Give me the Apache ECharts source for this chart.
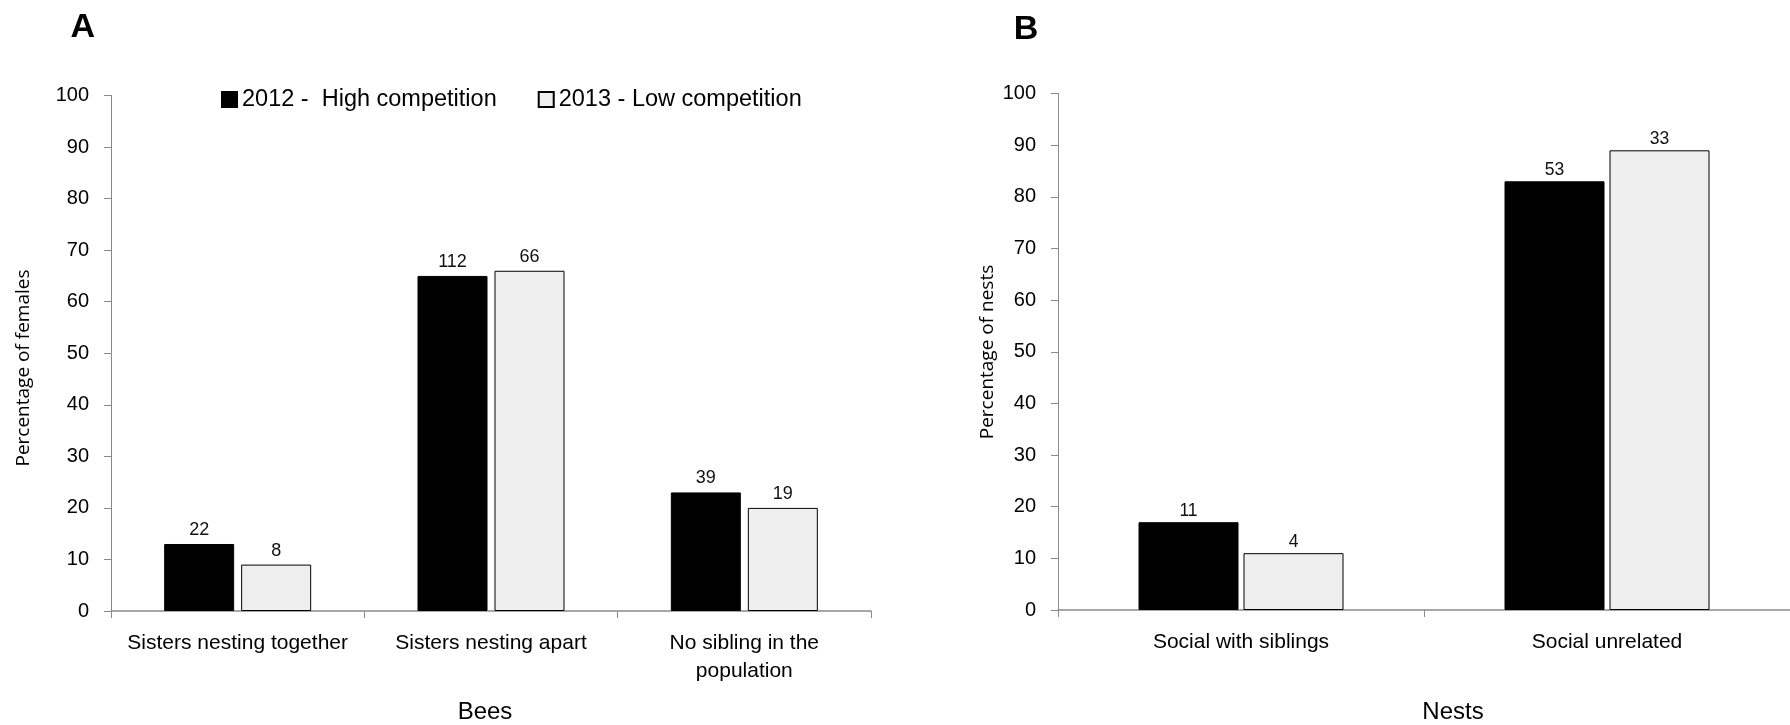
<!DOCTYPE html>
<html>
<head>
<meta charset="utf-8">
<script src="https://cdn.jsdelivr.net/npm/echarts@6/dist/echarts.min.js"></script>
<style>
  html, body { margin: 0; padding: 0; background: #ffffff; }
  #chart { width: 1790px; height: 725px; }
</style>
</head>
<body>
<div id="chart"></div>
<script>
// Panel A: females by sibling situation (percent), counts shown above bars
const beeCategories = ['Sisters nesting together', 'Sisters nesting apart', 'No sibling in the\npopulation'];
const bees2012 = [13, 65, 23];
const bees2013 = [9, 66, 20];
const beeCounts2012 = [22, 112, 39];
const beeCounts2013 = [8, 66, 19];

// Panel B: social nests by relatedness (percent), counts shown above bars
const nestCategories = ['Social with siblings', 'Social unrelated'];
const nests2012 = [17, 83];
const nests2013 = [11, 89];
const nestCounts2012 = [11, 53];
const nestCounts2013 = [4, 33];

const seriesNames = ['2012 -  High competition', '2013 - Low competition'];
const percentAxis = { min: 0, max: 100, interval: 10 };

const SANS = "'Liberation Sans', Arial, sans-serif";
const TITLE_FONT = "'Open Sans', sans-serif";
const AXIS_GREY = '#8a8a8a';

const chart = echarts.init(document.getElementById('chart'), null, { renderer: 'canvas' });

function valueAxis(gridIndex) {
  return {
    type: 'value', gridIndex,
    min: percentAxis.min, max: percentAxis.max, interval: percentAxis.interval,
    axisLine: { show: true, lineStyle: { color: AXIS_GREY, width: 1 } },
    axisTick: { show: true, length: 7, lineStyle: { color: AXIS_GREY } },
    axisLabel: { margin: 22, fontFamily: SANS, fontSize: 20, color: '#000' },
    splitLine: { show: false }
  };
}

function categoryAxis(gridIndex, data) {
  return {
    type: 'category', gridIndex, data,
    axisLine: { lineStyle: { color: AXIS_GREY, width: 1.5 } },
    axisTick: { show: true, alignWithLabel: false, length: 7, lineStyle: { color: AXIS_GREY } },
    axisLabel: { margin: 18, fontFamily: SANS, fontSize: 21, color: '#000', lineHeight: 28, interval: 0 }
  };
}

function barSeries(name, gridIndex, values, counts, fill, opts) {
  return {
    name, type: 'bar', xAxisIndex: gridIndex, yAxisIndex: gridIndex,
    data: values,
    barWidth: opts.barWidth, barGap: opts.barGap,
    itemStyle: { color: fill, borderColor: '#000', borderWidth: 1 },
    label: {
      show: true, position: 'top', distance: opts.labelDistance,
      fontFamily: SANS, fontSize: opts.labelSize, color: '#111',
      formatter: p => String(counts[p.dataIndex])
    },
    emphasis: { disabled: true },
    animation: false
  };
}

const beeBar = { barWidth: 70, barGap: '10%', labelDistance: 5, labelSize: 18 };
const nestBar = { barWidth: 100, barGap: '5%', labelDistance: 2, labelSize: 17.5 };

chart.setOption({
  backgroundColor: '#ffffff',
  animation: false,
  grid: [
    { left: 111, top: 95.5, width: 760, height: 515.5 },
    { left: 1058, top: 93.5, width: 745, height: 516.5 }
  ],
  xAxis: [categoryAxis(0, beeCategories), categoryAxis(1, nestCategories)],
  yAxis: [valueAxis(0), valueAxis(1)],
  legend: {
    data: seriesNames, left: 221, top: 87.5, padding: 0,
    icon: 'rect', itemWidth: 15, itemHeight: 15, itemGap: 41,
    textStyle: { fontFamily: SANS, fontSize: 23.5, color: '#000' },
    selectedMode: false
  },
  series: [
    barSeries(seriesNames[0], 0, bees2012, beeCounts2012, '#000000', beeBar),
    barSeries(seriesNames[1], 0, bees2013, beeCounts2013, '#efefef', beeBar),
    barSeries(seriesNames[0], 1, nests2012, nestCounts2012, '#000000', nestBar),
    barSeries(seriesNames[1], 1, nests2013, nestCounts2013, '#efefef', nestBar)
  ],
  graphic: [
    { type: 'text', x: 82.7, y: 27.5,
      style: { text: 'A', font: "bold 34px " + SANS, fill: '#000', align: 'center', verticalAlign: 'middle' } },
    { type: 'text', x: 1026, y: 30,
      style: { text: 'B', font: "bold 34px " + SANS, fill: '#000', align: 'center', verticalAlign: 'middle' } },
    { type: 'text', x: 24, y: 368, rotation: Math.PI / 2,
      style: { text: 'Percentage of females', font: "19px " + TITLE_FONT, fill: '#000', align: 'center', verticalAlign: 'middle' } },
    { type: 'text', x: 987.5, y: 352, rotation: Math.PI / 2,
      style: { text: 'Percentage of nests', font: "19px " + TITLE_FONT, fill: '#000', align: 'center', verticalAlign: 'middle' } },
    { type: 'text', x: 485, y: 712,
      style: { text: 'Bees', font: "24px " + SANS, fill: '#000', align: 'center', verticalAlign: 'middle' } },
    { type: 'text', x: 1453, y: 712,
      style: { text: 'Nests', font: "24px " + SANS, fill: '#000', align: 'center', verticalAlign: 'middle' } }
  ]
});
</script>
</body>
</html>
